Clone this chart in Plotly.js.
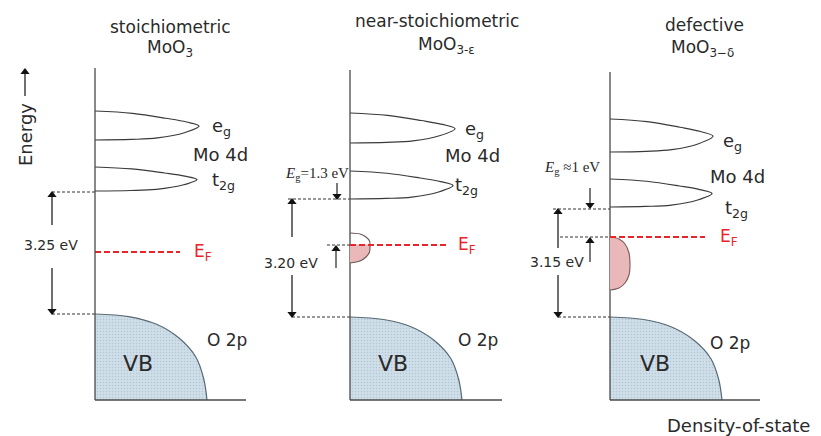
<!DOCTYPE html>
<html><head><meta charset="utf-8">
<script src="https://cdn.plot.ly/plotly-3.0.1.min.js"></script>
<style>html,body{margin:0;padding:0;background:#fff}#chart{width:821px;height:436px}</style>
</head><body><div id="chart"></div>
<script>
// ---------------- data (schematic energy units; DOS units) ----------------
const panelTitles = ['stoichiometric', 'near-stoichiometric', 'defective'];
const panelFormulas = ['MoO<sub>3</sub>', 'MoO<sub>3-ε</sub>', 'MoO<sub>3−δ</sub>'];
const gapLabels = ['3.25 eV', '3.20 eV', '3.15 eV'];
const egLabels = ['', '<i>E</i><sub>g</sub>=1.3 eV', '<i>E</i><sub>g</sub> ≈1 eV'];

const axisTop   = [332, 330, 328];
const egTop     = [289, 287, 281];
const egBottom  = [260, 257, 248];
const egWidth   = [104, 105, 103];
const t2gTop    = [233, 229, 221];
const t2gBottom = [209, 201, 193];
const t2gWidth  = [102, 103, 102];
const cbEdge    = [208, 201, 191];
const fermi     = [148, 155, 163];
const vbTop     = [86, 83, 83];
const vbWidth   = [112, 112, 112];
const dosAxisLen = [151, 152, 150];

// Mo 4d lobe outline (normalized: u = DOS fraction, v = fraction from band top to bottom)
const lobeU = [0, 0.36, 0.68, 0.88, 1, 0.86, 0.6, 0.35, 0];
const lobeV = [0, 0.08, 0.25, 0.38, 0.52, 0.75, 0.93, 0.98, 1];
// O 2p valence band outline (normalized)
const vbU = [0, 0.3, 0.55, 0.75, 0.9, 0.97, 1];
const vbV = [0, 0.03, 0.12, 0.28, 0.5, 0.75, 1];

// defect (gap) states
const defect2Dos = [0, 10, 16, 19.5, 20, 19.5, 16, 10, 0];
const defect2E   = [167, 166, 163, 159, 153, 148, 143, 139, 137];
const defect2FillDos = [0, 19.8, 20, 19.5, 16, 10, 0];
const defect2FillE   = [155, 155, 153, 148, 143, 139, 137];
const defect3Dos = [0, 9, 15, 19, 20, 19, 15, 9, 0];
const defect3E   = [163, 161, 156, 147, 136, 125, 117, 112, 110];

// ---------------- layout helpers ----------------
const AX = [95, 350, 610];          // DOS-axis origin of each panel
const gapArrowX = [52, 292, 558];
const gapHole = [[175, 132], [163, 125], [152, 125]];
const cbDotStart = [52, 288, 553];
const efDotStart = [null, 327, 560];
const vbDotStart = [52, 292, 558];
const efLen = [85, 97, 95];

const INK = '#2a2a2a', AXC = '#4a4a4a', RED = '#e8232a';
const traces = [];
function line(x, y, opt) {
  traces.push(Object.assign({type: 'scatter', mode: 'lines', x: x, y: y, hoverinfo: 'skip',
    showlegend: false, line: {color: AXC, width: 1.3}}, opt || {}));
}
function tri(x, y, sym) {
  traces.push({type: 'scatter', mode: 'markers', x: [x], y: [y], hoverinfo: 'skip', showlegend: false,
    marker: {symbol: sym, size: 8, color: '#111', line: {width: 0}}});
}

for (let p = 0; p < 3; p++) {
  const a = AX[p];
  // VB fill (helper along axis + curve)
  line([a, a], [vbTop[p], 0], {line: {width: 0, color: 'rgba(0,0,0,0)'}});
  line(vbU.map(u => a + u * vbWidth[p]), vbV.map(v => vbTop[p] - v * vbTop[p]),
    {fill: 'tonextx', fillcolor: '#cddde8',
     fillpattern: {shape: '.', bgcolor: '#cfdfe9', fgcolor: '#b3c5d2', size: 3, solidity: 0.2},
     line: {color: '#5a6a75', width: 1.2, shape: 'spline'}});
  // Mo 4d lobes
  [[egTop, egBottom, egWidth], [t2gTop, t2gBottom, t2gWidth]].forEach(b => {
    const top = b[0][p], bot = b[1][p], w = b[2][p];
    line(lobeU.map(u => a + u * w), lobeV.map(v => top - v * (top - bot)),
      {line: {color: '#3a3a3a', width: 1.2, shape: 'spline'}});
  });
  // Fermi level
  line([a, a + efLen[p]], [fermi[p], fermi[p]], {line: {color: RED, width: 2, dash: '6px,3px'}});
  // dotted guide lines
  line([cbDotStart[p], a], [cbEdge[p], cbEdge[p]], {line: {color: '#333', width: 1, dash: '3px,2px'}});
  line([vbDotStart[p], a], [vbTop[p], vbTop[p]], {line: {color: '#333', width: 1, dash: '3px,2px'}});
  if (efDotStart[p] !== null)
    line([efDotStart[p], a], [fermi[p], fermi[p]], {line: {color: '#333', width: 1, dash: '3px,2px'}});
  // axes
  line([a, a], [axisTop[p], 0], {line: {color: AXC, width: 1.3}});
  line([a, a + dosAxisLen[p]], [0, 0], {line: {color: AXC, width: 1.3}});
  // gap arrow
  const gx = gapArrowX[p];
  line([gx, gx], [cbEdge[p] - 4, gapHole[p][0]], {line: {color: '#222', width: 1.3}});
  line([gx, gx], [gapHole[p][1], vbTop[p] + 4], {line: {color: '#222', width: 1.3}});
  tri(gx, cbEdge[p] - 3, 'triangle-up');
  tri(gx, vbTop[p] + 3, 'triangle-down');
}

// defect states
line([AX[1], AX[1]], [155, 137], {line: {width: 0, color: 'rgba(0,0,0,0)'}});
line(defect2FillDos.map(d => AX[1] + d), defect2FillE,
  {fill: 'tonextx', fillcolor: '#eab8b8', line: {width: 0, color: 'rgba(0,0,0,0)', shape: 'spline'}});
line(defect2Dos.map(d => AX[1] + d), defect2E, {line: {color: '#6a5a5a', width: 1.1, shape: 'spline'}});
line([AX[2], AX[2]], [163, 110], {line: {width: 0, color: 'rgba(0,0,0,0)'}});
line(defect3Dos.map(d => AX[2] + d), defect3E,
  {fill: 'tonextx', fillcolor: '#eab8b8', line: {color: '#7a5a5a', width: 1.1, shape: 'spline'}});
// redraw red Fermi lines on top of defect fill
[1, 2].forEach(p => line([AX[p], AX[p] + efLen[p]], [fermi[p], fermi[p]], {line: {color: RED, width: 2, dash: '6px,3px'}}));

// small Eg arrows
line([337, 337], [217, 205], {line: {color: '#222', width: 1.2}}); tri(337, 204, 'triangle-down');
line([336, 336], [132, 150], {line: {color: '#222', width: 1.2}}); tri(336, 151, 'triangle-up');
line([590, 590], [212, 197], {line: {color: '#222', width: 1.2}}); tri(590, 195, 'triangle-down');
line([590, 590], [138, 158], {line: {color: '#222', width: 1.2}}); tri(590, 159, 'triangle-up');
// energy arrow
line([25, 25], [304, 326], {line: {color: '#222', width: 1.3}}); tri(25, 328, 'triangle-up');

// ---------------- text ----------------
const F = 'DejaVu Sans';
function txt(x, y, t, size, opt) {
  return Object.assign({x: x, y: y, xref: 'x', yref: 'y', text: t, showarrow: false,
    font: {family: F, size: size, color: INK}, xanchor: 'center', yanchor: 'middle'}, opt || {});
}
const titleX = [170, 437, 704], titleY = [373, 379, 375];
const formX = [170, 446, 702], formY = [352, 355, 352];
const egLX = [210, 463, 721], egLY = [273, 270, 258];
const t2LX = [210, 453, 723], t2LY = [219, 214, 191];
const moX = [220, 472, 737], moY = [246, 245, 224];
const efLX = [192, 456, 718];
const o2X = [227, 478, 730], o2Y = [60, 60, 57];
const vbX = [138, 393, 655];
const gapLY = [155, 137, 138];
const egTX = [null, 317, 572], egTY = [null, 226, 232];
const ann = [];
for (let p = 0; p < 3; p++) {
  ann.push(txt(titleX[p], titleY[p], panelTitles[p], 17));
  ann.push(txt(formX[p], formY[p], panelFormulas[p], 17));
  ann.push(txt(egLX[p], egLY[p], 'e<sub>g</sub>', 18, {xanchor: 'left'}));
  ann.push(txt(t2LX[p], t2LY[p], 't<sub>2g</sub>', 18, {xanchor: 'left'}));
  ann.push(txt(moX[p], moY[p], 'Mo 4d', 18));
  ann.push(txt(efLX[p], fermi[p], 'E<sub>F</sub>', 17, {xanchor: 'left', font: {family: F, size: 17, color: RED}}));
  ann.push(txt(o2X[p], o2Y[p], 'O 2p', 17));
  ann.push(txt(vbX[p], 37, 'VB', 22));
  ann.push(txt(gapArrowX[p] - 1, gapLY[p], gapLabels[p], 14));
  if (egLabels[p]) ann.push(txt(egTX[p], egTY[p], egLabels[p], 15, {font: {family: 'Liberation Serif', size: 15, color: INK}}));
}
ann.push(txt(738, -25, 'Density-of-state', 18));
ann.push(txt(25, 265, 'Energy', 18, {textangle: -90}));

const layout = {
  width: 821, height: 436, margin: {l: 0, r: 0, t: 0, b: 0},
  paper_bgcolor: '#fff', plot_bgcolor: '#fff', showlegend: false,
  xaxis: {range: [0, 821], visible: false, fixedrange: true},
  yaxis: {range: [-36, 400], visible: false, fixedrange: true},
  annotations: ann
};
Plotly.newPlot('chart', traces, layout, {staticPlot: true});
</script></body></html>
